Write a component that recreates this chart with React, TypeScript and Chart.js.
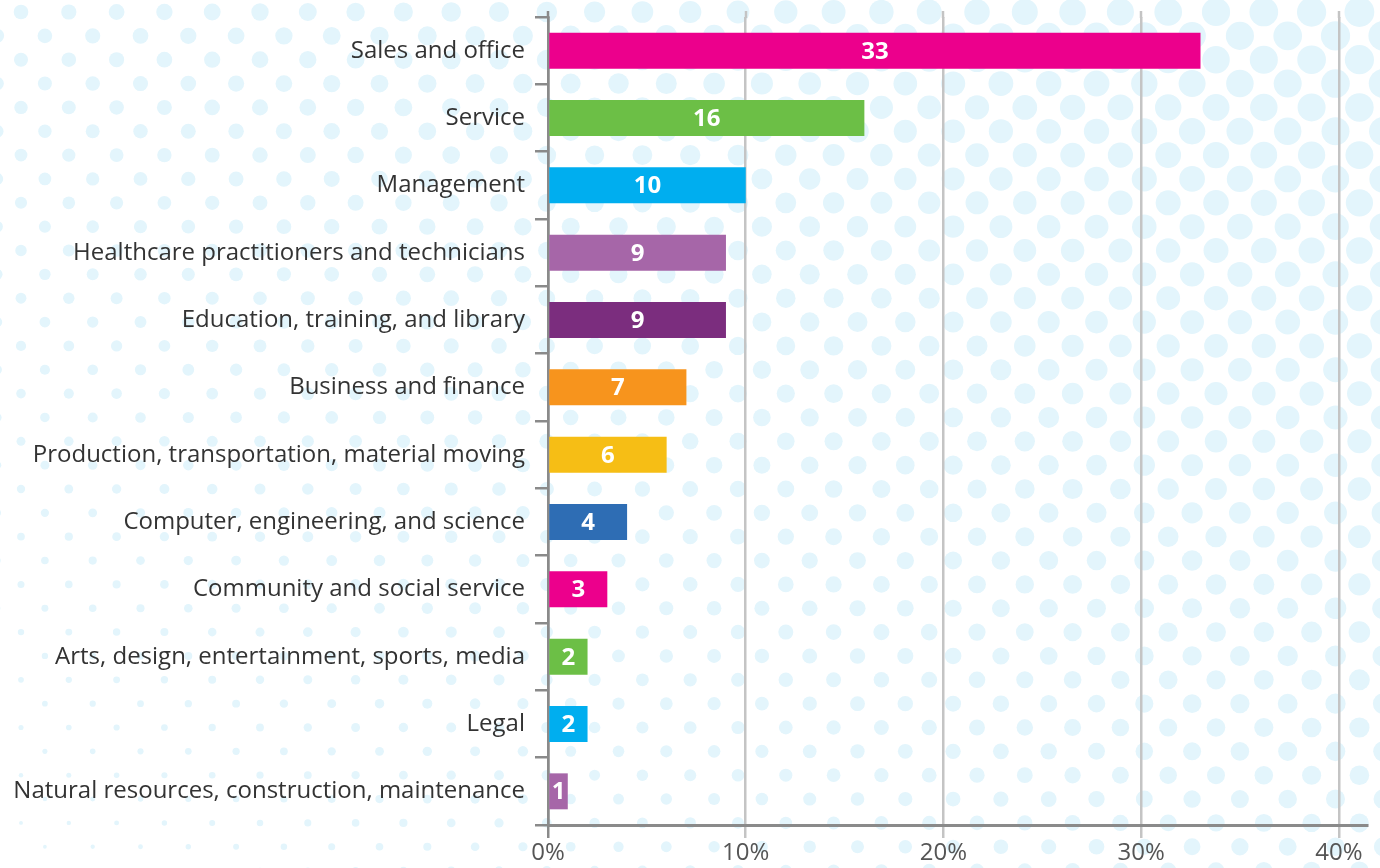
import React, { useEffect, useRef } from "react";
import { Chart, registerables } from "chart.js";

Chart.register(...registerables);

const categories = [
  "Sales and office",
  "Service",
  "Management",
  "Healthcare practitioners and technicians",
  "Education, training, and library",
  "Business and finance",
  "Production, transportation, material moving",
  "Computer, engineering, and science",
  "Community and social service",
  "Arts, design, entertainment, sports, media",
  "Legal",
  "Natural resources, construction, maintenance",
];

const values = [33, 16, 10, 9, 9, 7, 6, 4, 3, 2, 2, 1];

const barColors = [
  "#ec008c",
  "#6cbf46",
  "#00aeef",
  "#a666a8",
  "#7b2d7e",
  "#f7941d",
  "#f6be15",
  "#2e6db4",
  "#ec008c",
  "#6cbf46",
  "#00aeef",
  "#a666a8",
];

const xTickValues = [0, 10, 20, 30, 40];
const xMax = 41.42;

const FONT = "'Open Sans', 'Noto Sans', sans-serif";

const dotsPlugin = {
  id: "dotsBg",
  beforeDraw(chart: any) {
    const { ctx, width, height } = chart;
    ctx.save();
    ctx.fillStyle = "#ffffff";
    ctx.fillRect(0, 0, width, height);
    ctx.fillStyle = "#e3f5fc";
    const dx = 47.8;
    const dy = 23.85;
    for (let r = 0; r * dy + 12 < height + 20; r++) {
      const y = 12 + r * dy;
      const off = r % 2 === 0 ? 21 : 21 - dx / 2;
      for (let x = off; x < width + 20; x += dx) {
        const rad = 1.5 + 7.8 * (x / 1380) + 5.8 * (1 - y / 868);
        if (rad <= 0.5) continue;
        ctx.beginPath();
        ctx.arc(x, y, rad, 0, Math.PI * 2);
        ctx.fill();
      }
    }
    ctx.restore();
  },
  afterDraw(chart: any) {
    const { ctx, chartArea, scales } = chart;
    const xs = scales.x;
    ctx.save();
    xTickValues.forEach((v) => {
      const px = Math.round(xs.getPixelForValue(v));
      ctx.strokeStyle = v === 0 ? "#8a8a8a" : "#c4c4c4";
      ctx.lineWidth = 2.5;
      ctx.beginPath();
      ctx.moveTo(px, chartArea.top - 6);
      ctx.lineTo(px, chartArea.top + 1);
      ctx.stroke();
    });
    ctx.restore();
  },
};

const barLabelPlugin = {
  id: "barLabels",
  afterDatasetsDraw(chart: any) {
    const { ctx } = chart;
    const meta = chart.getDatasetMeta(0);
    ctx.save();
    ctx.fillStyle = "#ffffff";
    ctx.font = `bold 24px ${FONT}`;
    ctx.textAlign = "center";
    ctx.textBaseline = "middle";
    meta.data.forEach((bar: any, i: number) => {
      const cx = (bar.x + bar.base) / 2;
      ctx.fillText(String(values[i]), cx, bar.y + 1);
    });
    ctx.restore();
  },
};

export default function App() {
  const canvasRef = useRef<HTMLCanvasElement | null>(null);

  useEffect(() => {
    document.body.style.margin = "0";
    const canvas = canvasRef.current;
    if (!canvas) return;
    const chart = new Chart(canvas, {
      type: "bar",
      data: {
        labels: categories,
        datasets: [
          {
            data: values,
            backgroundColor: barColors,
            borderWidth: 0,
            categoryPercentage: 0.534,
            barPercentage: 1,
          },
        ],
      },
      options: {
        indexAxis: "y",
        responsive: false,
        animation: false,
        layout: { padding: { top: 17, right: 13, left: 0, bottom: 0 } },
        plugins: {
          legend: { display: false },
          tooltip: { enabled: false },
        },
        scales: {
          x: {
            type: "linear",
            min: 0,
            max: xMax,
            afterBuildTicks: (scale: any) => {
              scale.ticks = xTickValues.map((v) => ({ value: v }));
            },
            afterFit: (scale: any) => {
              scale.height = 43;
              scale.paddingLeft = 0;
              scale.paddingRight = 0;
            },
            border: { display: true, color: "#8a8a8a", width: 3 },
            grid: {
              color: (c: any) => (c.tick && c.tick.value === 0 ? "#8a8a8a" : "#c4c4c4"),
              lineWidth: 2.5,
              tickLength: 13,
              drawTicks: true,
            },
            ticks: {
              padding: 1,
              color: "#555555",
              font: { family: FONT, size: 24 },
              callback: (v: any) => `${v}%`,
            },
          },
          y: {
            afterFit: (scale: any) => {
              scale.width = 548;
              scale.paddingTop = 0;
              scale.paddingBottom = 0;
            },
            border: { display: true, color: "#8a8a8a", width: 2.5 },
            grid: {
              offset: true,
              drawOnChartArea: false,
              drawTicks: true,
              tickLength: 13,
              color: "#8a8a8a",
              lineWidth: 2.5,
            },
            ticks: {
              padding: 10,
              color: "#333333",
              font: { family: FONT, size: 24 },
            },
          },
        },
      },
      plugins: [dotsPlugin, barLabelPlugin],
    });
    return () => chart.destroy();
  }, []);

  return (
    <canvas
      ref={canvasRef}
      width={1380}
      height={868}
      style={{ display: "block", width: 1380, height: 868 }}
    />
  );
}
